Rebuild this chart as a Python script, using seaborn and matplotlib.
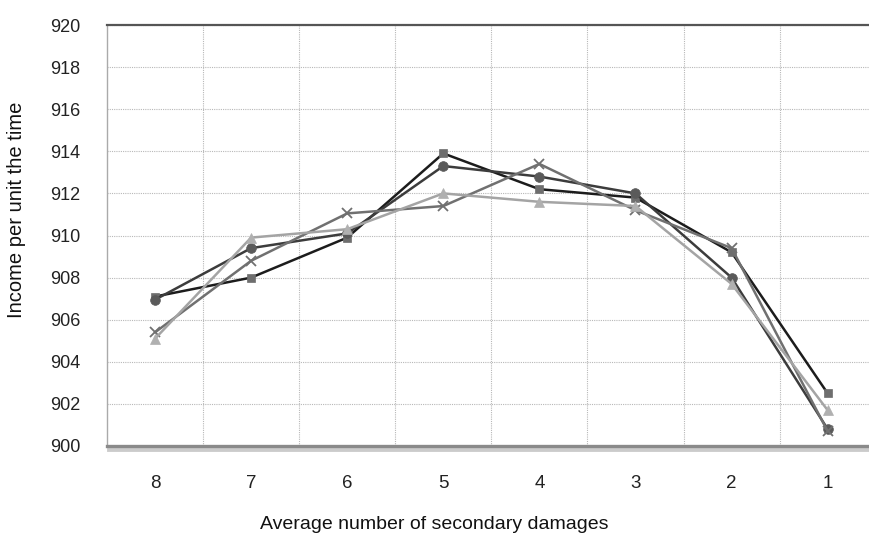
import matplotlib
matplotlib.use("Agg")
import matplotlib.pyplot as plt
import matplotlib.patheffects as pe
import seaborn as sns
import pandas as pd
import numpy as np

categories = ["8", "7", "6", "5", "4", "3", "2", "1"]
series_square = [907.1, 908.0, 909.9, 913.9, 912.2, 911.8, 909.2, 902.5]
series_circle = [906.95, 909.4, 910.1, 913.3, 912.8, 912.0, 908.0, 900.8]
series_cross = [905.4, 908.8, 911.05, 911.4, 913.4, 911.2, 909.4, 900.7]
series_triangle = [905.1, 909.9, 910.3, 912.0, 911.6, 911.4, 907.7, 901.7]
y_ticks = list(range(900, 921, 2))

series = [
    ("square", series_square, "s", "#1c1c1c", "#6e6e6e", 6),
    ("circle", series_circle, "o", "#3c3c3c", "#5a5a5a", 7),
    ("cross", series_cross, "x", "#707070", "#707070", 7.5),
    ("triangle", series_triangle, "^", "#a4a4a4", "#b0b0b0", 7),
]

sns.set_theme(style="white")
plt.rcParams["font.family"] = ["Liberation Sans", "DejaVu Sans"]

fig = plt.figure(figsize=(8.69, 5.34), dpi=100)
ax = fig.add_axes([107 / 869, 1 - 446 / 534, 1 - 107 / 869, (446 - 25) / 534])

for name, vals, mk, lc, mc, ms in series:
    df = pd.DataFrame({"x": categories, "y": vals})
    sns.lineplot(data=df, x="x", y="y", ax=ax, sort=False, color=lc, linewidth=1.8,
                 marker=mk, markersize=ms, markerfacecolor=mc, markeredgecolor=mc,
                 markeredgewidth=1.3 if mk == "x" else 0.5, zorder=3)

ax.set_ylim(900, 920)
ax.set_yticks(y_ticks)
ax.set_xlim(-0.5, 7.43)
ax.set_xticks(range(len(categories)))
ax.set_xticklabels(categories)
ax.set_xticks(np.arange(0.5, 7.5, 1), minor=True)

ax.grid(False)
ax.grid(True, which="minor", axis="x", linestyle=(0, (1, 1)), color="#b8b8b8", linewidth=0.8)
ax.grid(True, which="major", axis="y", linestyle=(0, (1, 1)), color="#b8b8b8", linewidth=0.8)

ax.tick_params(axis="x", which="major", length=0, pad=21, labelsize=13.5, colors="#222222")
ax.tick_params(axis="x", which="minor", length=6, width=1, color="#999999", direction="out")
ax.tick_params(axis="y", which="major", length=7, width=1, color="#999999", direction="out",
               labelsize=13, labelcolor="#222222", pad=12)

ax.spines["right"].set_visible(False)
ax.spines["left"].set_color("#aaaaaa")
ax.spines["left"].set_linewidth(1)
ax.spines["top"].set_color("#555555")
ax.spines["top"].set_linewidth(1.6)
ax.spines["bottom"].set_color("#8a8a8a")
ax.spines["bottom"].set_linewidth(2.4)
ax.spines["bottom"].set_path_effects([pe.SimpleLineShadow(offset=(1.5, -2.5), shadow_color="#999999", alpha=0.5, linewidth=3.5), pe.Normal()])

ax.set_xlabel("Average number of secondary damages", fontsize=14, color="#111111")
ax.set_ylabel("Income per unit the time", fontsize=14.5, color="#111111")
ax.xaxis.set_label_coords(0.429, -0.167)
ax.yaxis.set_label_coords(-0.106, 0.56)

fig.savefig("out.png", dpi=100)
